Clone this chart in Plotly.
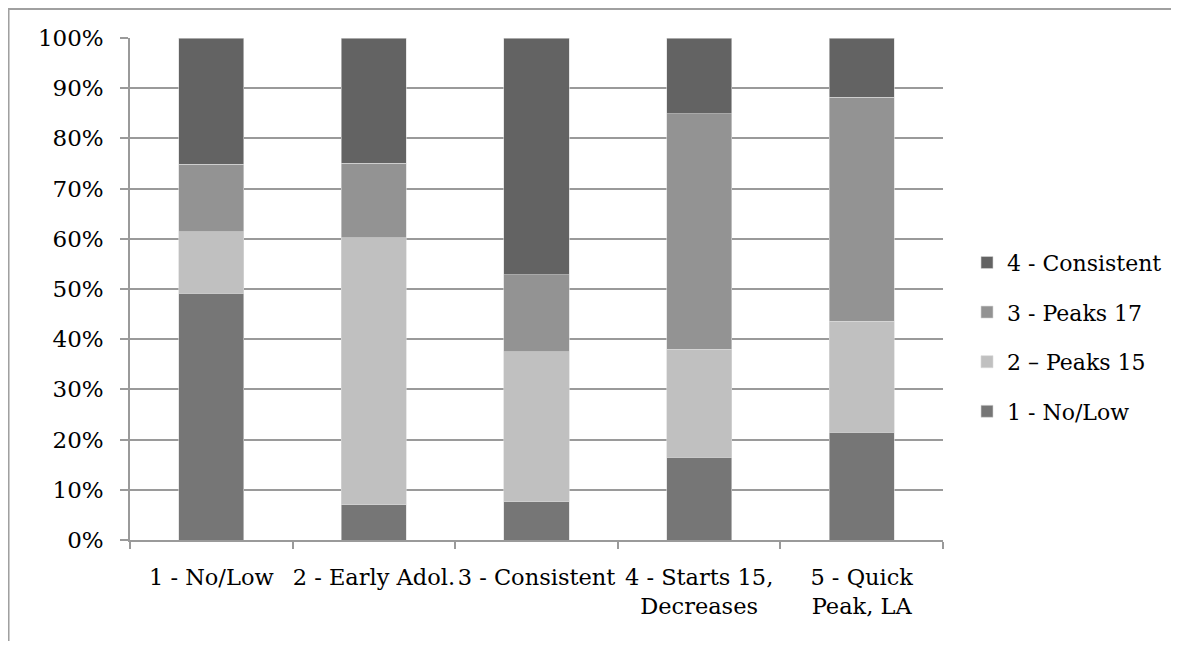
import plotly.graph_objects as go

categories = ["1 - No/Low", "2 - Early Adol.", "3 - Consistent", "4 - Starts 15,<br>Decreases", "5 - Quick<br>Peak, LA"]
series_names = ["1 - No/Low", "2 \u2013 Peaks 15", "3 - Peaks 17", "4 - Consistent"]
s1_no_low = [49.2, 7.0, 7.6, 16.5, 21.5]
s2_peaks15 = [12.2, 53.2, 29.9, 21.5, 22.1]
s3_peaks17 = [13.5, 14.9, 15.3, 46.9, 44.6]
s4_consistent = [25.1, 24.9, 47.2, 15.1, 11.8]
colors = ["#767676", "#c0c0c0", "#939393", "#636363"]

FONT = "DejaVu Serif"
fig = go.Figure()
for i, (name, vals) in enumerate(zip(series_names, [s1_no_low, s2_peaks15, s3_peaks17, s4_consistent])):
    fig.add_trace(go.Bar(
        x=categories, y=vals, name=name, legendgroup=f"g{i}", legendrank=10 - i,
        marker=dict(color=colors[i], line=dict(color="#d8d8d8", width=0.6)),
    ))

fig.update_layout(
    barmode="stack",
    bargap=0.6,
    width=1163, height=633,
    margin=dict(l=122, r=228, t=30, b=101),
    paper_bgcolor="white", plot_bgcolor="white",
    font=dict(family=FONT, size=23, color="black"),
    legend=dict(
        xref="container", yref="paper",
        x=0.8246, y=0.404, xanchor="left", yanchor="middle",
        traceorder="grouped", tracegroupgap=18,
        font=dict(family=FONT, size=22, color="black"),
    ),
    yaxis=dict(
        range=[0, 100], dtick=10, ticksuffix="%",
        showgrid=True, gridcolor="#9a9a9a", gridwidth=1.5,
        showline=True, linecolor="#9a9a9a", linewidth=1.5,
        ticks="outside", ticklen=8, tickcolor="#9a9a9a", tickwidth=1.5,
        zeroline=False, fixedrange=True, ticklabelstandoff=12,
        tickfont=dict(family=FONT, size=23),
    ),
    xaxis=dict(
        showgrid=False, showline=True, linecolor="#9a9a9a", linewidth=1.5,
        ticks="outside", tickson="boundaries", ticklen=7, tickcolor="#9a9a9a", tickwidth=1.5,
        tickangle=0, ticklabelstandoff=16, tickfont=dict(family=FONT, size=22.5),
    ),
    shapes=[dict(
        type="rect", xref="paper", yref="paper",
        x0=-0.1494, x1=1.4, y0=-0.3, y1=1.0578,
        line=dict(color="#a0a0a0", width=2), fillcolor="rgba(0,0,0,0)", layer="below",
    )],
)

fig.write_html("out.html")
